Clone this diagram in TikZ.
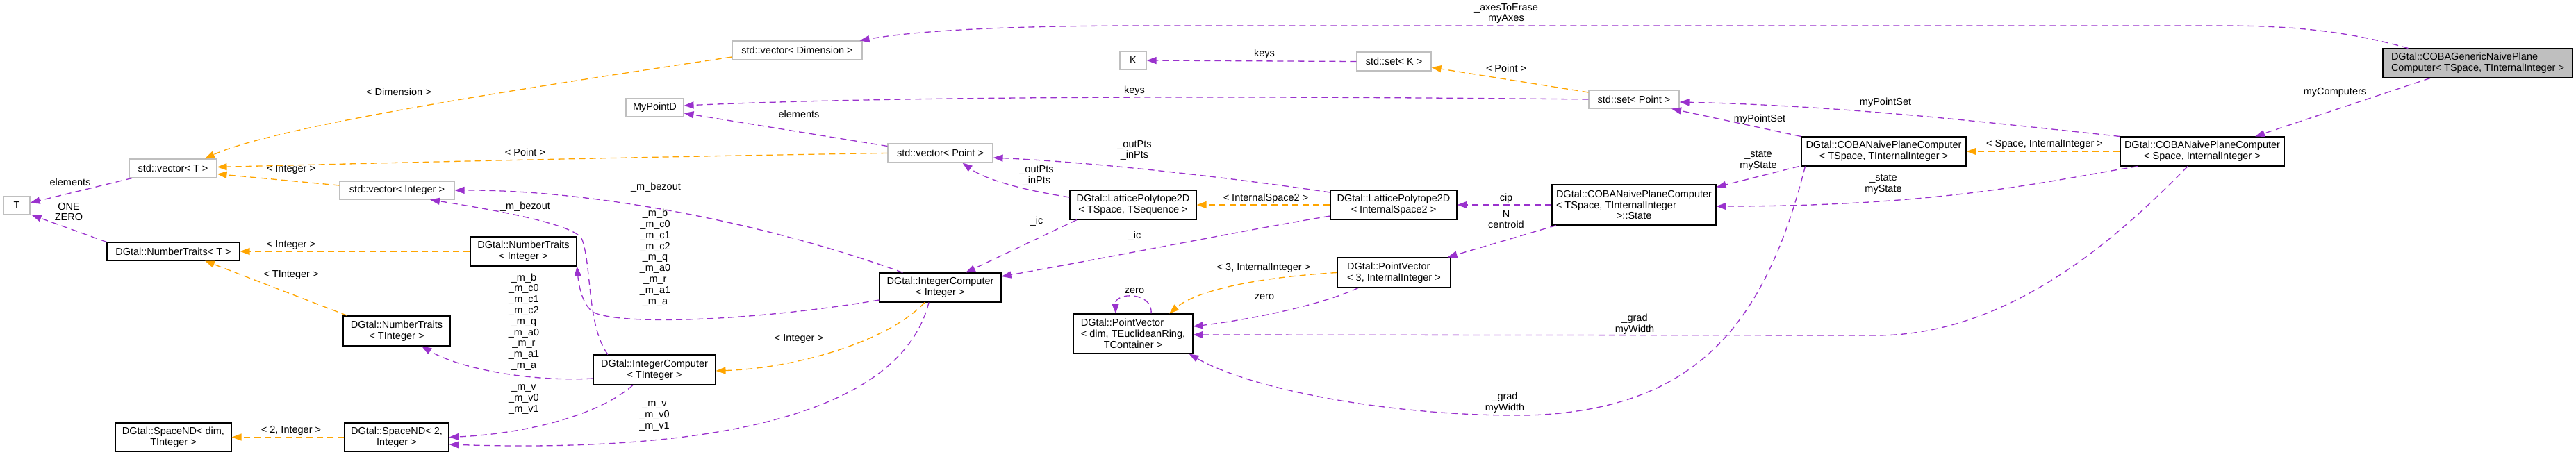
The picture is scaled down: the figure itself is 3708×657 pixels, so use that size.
\documentclass[tikz,border=0pt]{standalone}
\usepackage{fontspec}
\setmainfont{Liberation Sans}
\usetikzlibrary{arrows.meta}
\definecolor{edgepurple}{RGB}{154,50,205}
\definecolor{edgeorange}{RGB}{255,165,0}
\definecolor{nodegrey}{RGB}{191,191,191}

\begin{document}
\begin{tikzpicture}[
    x=1pt, y=-1pt,
    >={Triangle[length=14pt,width=10pt]}
]

\tikzset{
    cls/.style={
        draw=black,
        line width=1.1pt,
        fill=white,
        inner sep=0pt,
        align=center,
        font=\fontsize{14.5}{15.8}\selectfont
    },
    ext/.style={cls, draw=nodegrey},
    lbl/.style={inner sep=0pt, align=center, font=\fontsize{14.5}{15.8}\selectfont},
    usage/.style={->, edgepurple, line width=1.3pt, dash pattern=on 9pt off 6pt},
    tmpl/.style={usage, edgeorange}
}

\useasboundingbox (0,0) rectangle (3708,657);

\node[ext, minimum width=38pt, minimum height=26pt] (T) at (24,296) {T};
\node[ext, minimum width=126pt, minimum height=27pt] (vecT) at (249,242.5) {std::vector< T >};
\node[ext, minimum width=165pt, minimum height=26pt] (vecInt) at (571.5,274) {std::vector< Integer >};
\node[ext, minimum width=187pt, minimum height=27pt] (vecDim) at (1147.5,72.5) {std::vector< Dimension >};
\node[ext, minimum width=83pt, minimum height=26pt] (myPointD) at (942.5,155) {MyPointD};
\node[ext, minimum width=38pt, minimum height=26pt] (K) at (1631,87) {K};
\node[ext, minimum width=107pt, minimum height=27pt] (setK) at (2006.5,88.5) {std::set< K >};
\node[ext, minimum width=130pt, minimum height=26pt] (setPoint) at (2352,143) {std::set< Point >};
\node[ext, minimum width=151pt, minimum height=27pt] (vecPoint) at (1353.5,220.5) {std::vector< Point >};

\node[cls, minimum width=191pt, minimum height=26pt] (ntT) at (249.5,362) {DGtal::NumberTraits< T >};
\node[cls, minimum width=153pt, minimum height=42pt] (ntI) at (753.5,362) {DGtal::NumberTraits\\< Integer >};
\node[cls, minimum width=154pt, minimum height=43pt] (ntTI) at (571,476.5) {DGtal::NumberTraits\\< TInteger >};
\node[cls, minimum width=167pt, minimum height=41pt] (spaceDim) at (249.5,629.5) {DGtal::SpaceND< dim,\\TInteger >};
\node[cls, minimum width=150pt, minimum height=41pt] (space2) at (571,629.5) {DGtal::SpaceND< 2,\\Integer >};
\node[cls, minimum width=176pt, minimum height=43pt] (icT) at (942,532.5) {DGtal::IntegerComputer\\< TInteger >};
\node[cls, minimum width=175pt, minimum height=42pt] (icI) at (1353.5,414) {DGtal::IntegerComputer\\< Integer >};
\node[cls, minimum width=182pt, minimum height=42pt] (lpTS) at (1631,295) {DGtal::LatticePolytope2D\\< TSpace, TSequence >};
\node[cls, minimum width=182pt, minimum height=42pt] (lpIS) at (2006,295) {DGtal::LatticePolytope2D\\< InternalSpace2 >};
\node[cls, minimum width=172pt, minimum height=57pt, align=left] (pv) at (1631,480.5)
{DGtal::PointVector\\< dim, TEuclideanRing,\\\hspace*{33pt}TContainer >};
\node[cls, minimum width=163pt, minimum height=43pt, align=left] (pv3) at (2006.5,392.5)
{DGtal::PointVector\\< 3, InternalInteger >};
\node[cls, minimum width=236pt, minimum height=58pt, align=left] (state) at (2352,295)
{DGtal::COBANaivePlaneComputer\\< TSpace, TInternalInteger\\\hspace*{87pt}>::State};
\node[cls, minimum width=237pt, minimum height=42pt] (cobaT) at (2711.5,218)
{DGtal::COBANaivePlaneComputer\\< TSpace, TInternalInteger >};
\node[cls, minimum width=236pt, minimum height=42pt] (cobaS) at (3170,218)
{DGtal::COBANaivePlaneComputer\\< Space, InternalInteger >};
\node[cls, fill=nodegrey, minimum width=273pt, minimum height=42pt, align=left] (root) at (3566.5,91)
{DGtal::COBAGenericNaivePlane\\Computer< TSpace, TInternalInteger >};

\node[lbl] (lDim) at (574,132) {< Dimension >};
\node[lbl] (lElemT) at (101,262) {elements};
\node[lbl] (lOne) at (99,305) {ONE\\ZERO};
\node[lbl] (lIntV) at (419,244) {< Integer >};
\node[lbl] (lIntNT) at (419,353) {< Integer >};
\node[lbl] (lTInt) at (419,396) {< TInteger >};
\node[lbl] (l2Int) at (419,620) {< 2, Integer >};
\node[lbl] (lPointV) at (756,219) {< Point >};
\node[lbl] (lBezT) at (756,298) {\_m\_bezout};
\node[lbl] (lMT) at (754,463.5) {\_m\_b\\\_m\_c0\\\_m\_c1\\\_m\_c2\\\_m\_q\\\_m\_a0\\\_m\_r\\\_m\_a1\\\_m\_a};
\node[lbl] (lVT) at (754,575) {\_m\_v\\\_m\_v0\\\_m\_v1};
\node[lbl] (lBezI) at (944,270) {\_m\_bezout};
\node[lbl] (lMI) at (943,371) {\_m\_b\\\_m\_c0\\\_m\_c1\\\_m\_c2\\\_m\_q\\\_m\_a0\\\_m\_r\\\_m\_a1\\\_m\_a};
\node[lbl] (lVI) at (942,599) {\_m\_v\\\_m\_v0\\\_m\_v1};
\node[lbl] (lElemP) at (1150,164) {elements};
\node[lbl] (lIntIC) at (1150,488) {< Integer >};
\node[lbl] (lPts2) at (1492,253) {\_outPts\\\_inPts};
\node[lbl] (lIc1) at (1492,319) {\_ic};
\node[lbl] (lKeys2) at (1633,131) {keys};
\node[lbl] (lPts1) at (1633,216.5) {\_outPts\\\_inPts};
\node[lbl] (lIc2) at (1633,340) {\_ic};
\node[lbl] (lZero1) at (1633,419) {zero};
\node[lbl] (lKeys1) at (1820,78) {keys};
\node[lbl] (lIS) at (1822,286) {< InternalSpace2 >};
\node[lbl] (l3Int) at (1819,386) {< 3, InternalInteger >};
\node[lbl] (lZero2) at (1820,428) {zero};
\node[lbl] (lAxes) at (2168,19.5) {\_axesToErase\\myAxes};
\node[lbl] (lPointS) at (2168,98) {< Point >};
\node[lbl] (lCip) at (2168,286) {cip};
\node[lbl] (lN) at (2168,316) {N\\centroid};
\node[lbl] (lGrad2) at (2166,579.5) {\_grad\\myWidth};
\node[lbl] (lGrad1) at (2353,466.5) {\_grad\\myWidth};
\node[lbl] (lPS2) at (2533,172) {myPointSet};
\node[lbl] (lSt1) at (2531,231) {\_state\\myState};
\node[lbl] (lPS1) at (2714,148) {myPointSet};
\node[lbl] (lSt2) at (2711,265.5) {\_state\\myState};
\node[lbl] (lSpace) at (2943,208) {< Space, InternalInteger >};
\node[lbl] (lComp) at (3361,133) {myComputers};

\draw[tmpl] ([yshift=-9.5pt]vecDim.west) .. controls (800,120) and (400,180) .. ([xshift=46pt]vecT.north);
\draw[tmpl] ([yshift=7pt]vecInt.west) -- ([yshift=-8pt]vecT.east);
\draw[tmpl] (vecPoint.west) .. controls (900,226) and (500,236) .. ([yshift=2pt]vecT.east);
\draw[usage] ([xshift=-59pt]vecT.south) -- ([yshift=4pt]T.east);
\draw[usage] (ntT.north west) -- ([xshift=2pt]T.south east);
\draw[tmpl] (ntI.west) -- (ntT.east);
\draw[tmpl] ([xshift=-71pt]ntTI.north) -- ([xshift=45.5pt]ntT.south);
\draw[tmpl] (space2.west) -- (spaceDim.east);

\draw[usage] ([xshift=-100pt]root.north) .. controls (3380,45) and (3300,37) .. (3200,37)
    -- (1650,37) .. controls (1450,37) and (1320,44) .. ([xshift=-4pt]vecDim.north east);
\draw[usage] ([xshift=-68.5pt]root.south) -- ([xshift=76pt]cobaS.north);
\draw[tmpl] (cobaS.west) -- (cobaT.east);
\draw[usage] (cobaS.north west) .. controls (2850,175) and (2650,152) .. ([yshift=-4pt]setPoint.east);
\draw[usage] (cobaT.north west) -- ([xshift=54pt]setPoint.south);
\draw[usage] ([xshift=-93pt]cobaS.south) .. controls (2950,260) and (2800,297) .. ([yshift=-2pt]state.east);
\draw[usage] ([xshift=-3pt]cobaT.south west) -- ([yshift=-4pt]state.north east);
\draw[usage] ([xshift=-21pt]cobaS.south) .. controls (3060,330) and (2900,483) .. (2700,483)
    -- ([yshift=-1.5pt]pv.east);
\draw[usage] ([xshift=6pt]cobaT.south west) .. controls (2540,470) and (2440,590) .. (2200,598)
    .. controls (2000,600) and (1800,560) .. ([xshift=-6pt]pv.south east);

\draw[usage] (setK.west) -- (K.east);
\draw[tmpl] ([yshift=10pt]setPoint.west) -- ([yshift=-8.5pt]setK.east);
\draw[usage] (setPoint.west) .. controls (1800,138) and (1300,138) .. ([yshift=3pt]myPointD.east);
\draw[usage] ([yshift=10pt]vecPoint.west) -- ([yshift=-8pt]myPointD.east);

\draw[usage] (state.west) -- (lpIS.east);
\draw[usage] ([xshift=-112pt]state.south) -- ([xshift=-5pt]pv3.north east);
\draw[tmpl] (lpIS.west) -- (lpTS.east);
\draw[usage] ([yshift=18pt]lpIS.west) .. controls (1800,260) and (1600,235) .. ([yshift=-6.5pt]vecPoint.east);
\draw[usage] ([yshift=-16pt]lpIS.west) .. controls (1800,330) and (1600,370) .. ([yshift=16pt]icI.east);
\draw[usage] ([yshift=11pt]lpTS.west) .. controls (1480,275) and (1420,260) .. ([xshift=32pt]vecPoint.south);
\draw[usage] ([xshift=-81pt]lpTS.south) -- ([xshift=36.5pt]icI.north);

\draw[tmpl] (pv3.west) .. controls (1800,400) and (1720,420) .. ([xshift=52pt]pv.north);
\draw[usage] ([xshift=-51.5pt]pv3.south) .. controls (1900,440) and (1800,460) .. ([yshift=10.5pt]pv.east);
\draw[usage] ([xshift=26pt]pv.north) .. controls (1660,420) and (1605,420) .. ([xshift=-25pt]pv.north);

\draw[usage] ([xshift=-54pt]icI.north) .. controls (1100,320) and (850,273) .. (vecInt.east);
\draw[usage] ([yshift=-18pt]icI.west) .. controls (1100,460) and (900,470) .. (855,450)
    .. controls (838,440) and (833,410) .. (ntI.south east);
\draw[tmpl] ([xshift=-22.5pt]icI.south) .. controls (1280,490) and (1150,530) .. ([yshift=-1.5pt]icT.east);
\draw[usage] ([xshift=-16.5pt]icI.south) .. controls (1290,620) and (950,650) .. ([yshift=-10.5pt]space2.east);

\draw[usage] ([xshift=-67pt]icT.north) .. controls (845,470) and (852,385) .. (838,345)
    .. controls (831,325) and (730,305) .. ([xshift=47.5pt]vecInt.south);
\draw[usage] ([yshift=-12.5pt]icT.west) .. controls (760,550) and (660,530) .. ([xshift=36pt]ntTI.south);
\draw[usage] ([xshift=-31pt]icT.south) .. controls (860,600) and (750,625) .. (space2.east);

\end{tikzpicture}
\end{document}
